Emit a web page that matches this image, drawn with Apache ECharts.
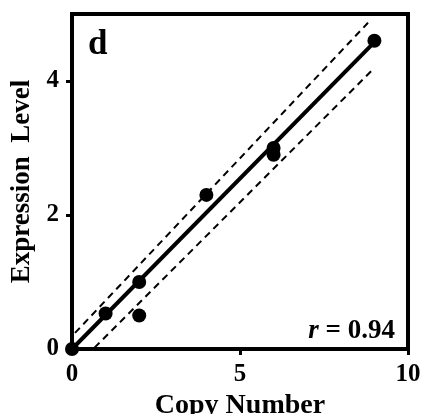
<!DOCTYPE html>
<html>
<head>
<meta charset="utf-8">
<script src="https://cdn.jsdelivr.net/npm/echarts@6/dist/echarts.min.js"></script>
<style>html,body{margin:0;padding:0;background:#fff}#c{width:422px;height:414px}</style>
</head>
<body>
<div id="c"></div>
<script>
// Data
var copyNumber = [0, 1, 2, 2, 4, 6, 6, 9];
var expression = [0, 0.53, 1.0, 0.5, 2.3, 3.0, 2.9, 4.6];
var fitX = [0, 9];
var fitY = [0, 4.58];
var upperX = [0.09, 8.81];
var upperY = [0.24, 4.87];
var lowerX = [0.67, 8.93];
var lowerY = [0.02, 4.16];
var xTicks = [0, 5, 10];
var yTicks = [0, 2, 4];

function pairs(a, b) { return a.map(function (v, i) { return [v, b[i]]; }); }

var serif = '"Liberation Serif", "DejaVu Serif", serif';
var chart = echarts.init(document.getElementById('c'), null, {renderer: 'canvas'});
chart.setOption({
  animation: false,
  backgroundColor: '#fff',
  grid: {left: 72, right: 14, top: 14, bottom: 65, show: true, borderWidth: 4, borderColor: '#000',
    containLabel: false, outerBoundsMode: 'none'},
  xAxis: {
    type: 'value', min: 0, max: 10, interval: 5,
    name: 'Copy Number', nameLocation: 'middle', nameGap: 37,
    nameTextStyle: {fontFamily: serif, fontWeight: 'bold', fontSize: 28, color: '#000'},
    axisLine: {show: true, lineStyle: {color: '#000', width: 4}},
    axisTick: {show: true, length: 6, lineStyle: {color: '#000', width: 3}},
    axisLabel: {margin: 13, fontFamily: serif, fontWeight: 'bold', fontSize: 25, color: '#000',
      formatter: function (v) { return xTicks.indexOf(v) >= 0 ? String(v) : ''; }},
    splitLine: {show: false}
  },
  yAxis: {
    type: 'value', min: 0, max: 5, interval: 2,
    name: 'Expression  Level', nameLocation: 'middle', nameGap: 32,
    nameTextStyle: {fontFamily: serif, fontWeight: 'bold', fontSize: 27, color: '#000'},
    axisLine: {show: true, lineStyle: {color: '#000', width: 4}},
    axisTick: {show: true, length: 6, lineStyle: {color: '#000', width: 3}},
    axisLabel: {margin: 13, fontFamily: serif, fontWeight: 'bold', fontSize: 25, color: '#000', showMaxLabel: false,
      formatter: function (v) { return yTicks.indexOf(v) >= 0 ? String(v) : ''; }},
    splitLine: {show: false}
  },
  title: [
    {text: 'd', left: 83, top: 22, textStyle: {fontFamily: serif, fontWeight: 'bold', fontSize: 35, color: '#000'}},
    {text: '{i|r} = 0.94', right: 22, top: 313,
      textStyle: {fontFamily: serif, fontWeight: 'bold', fontSize: 27, color: '#000',
        rich: {i: {fontFamily: serif, fontStyle: 'italic', fontWeight: 'bold', fontSize: 27, color: '#000'}}}}
  ],
  series: [
    {type: 'line', data: pairs(upperX, upperY), symbol: 'none', silent: true,
      lineStyle: {color: '#000', width: 2, type: [7, 5]}},
    {type: 'line', data: pairs(lowerX, lowerY), symbol: 'none', silent: true,
      lineStyle: {color: '#000', width: 2, type: [7, 5]}},
    {type: 'line', data: pairs(fitX, fitY), symbol: 'none', silent: true,
      lineStyle: {color: '#000', width: 4}},
    {type: 'scatter', data: pairs(copyNumber, expression), symbol: 'circle', symbolSize: 14,
      itemStyle: {color: '#000', opacity: 1}, clip: false, z: 5}
  ]
});
</script>
</body>
</html>
